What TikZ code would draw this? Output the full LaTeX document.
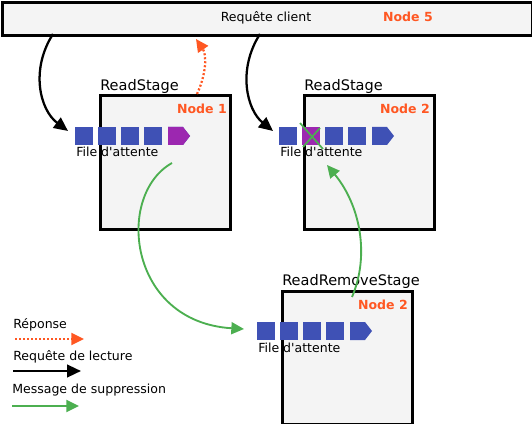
\documentclass[tikz,border=0pt]{standalone}
\usepackage{fontspec}
\setmainfont{DejaVu Sans}
\usetikzlibrary{arrows.meta}

\definecolor{qblue}{HTML}{3F51B5}
\definecolor{qpurple}{HTML}{9C27B0}
\definecolor{nodeorange}{HTML}{FF5722}
\definecolor{msggreen}{HTML}{4CAF50}
\definecolor{boxgray}{HTML}{F4F4F4}

\tikzset{
	stagebox/.style={draw=black, fill=boxgray, line width=1.9pt, anchor=north west,
		minimum width=97.5pt, minimum height=100.5pt, inner sep=0},
	stagename/.style={anchor=base west, inner sep=0, font=\fontsize{10.9}{13}\selectfont},
	smalltext/.style={inner sep=0, font=\fontsize{9.4}{11}\selectfont},
	nodetag/.style={anchor=base east, inner sep=0, text=nodeorange, font=\fontsize{9.4}{11}\selectfont\bfseries},
	readarrow/.style={line width=1.7pt, -{Triangle[length=10.5pt,width=9.5pt]}},
	replyarrow/.style={nodeorange, line width=1.7pt, dash pattern=on 1.5pt off 1.5pt,
		-{Triangle[length=9.5pt,width=9pt]}},
	removearrow/.style={msggreen, line width=1.4pt, -{Triangle[length=9.5pt,width=9pt]}}
}

\begin{document}
\begin{tikzpicture}[x=0.75pt, y=-0.75pt]
		\useasboundingbox (0,0) rectangle (532,424);
		
		% client
		\node[stagebox, minimum width=397.5pt, minimum height=24.75pt] (client) at (1,1) {};
		\node[smalltext, anchor=base] (clienttext) at (266,22) {Requête client};
		\node[nodetag] (tag5) at (433,22) {Node 5};
		
		% stages
		\node[stagebox] (rs1) at (99,94) {};
		\node[stagename] (rs1name) at (100,91) {ReadStage};
		\node[nodetag] (tag1) at (227,114) {Node 1};
		
		\node[stagebox] (rs2) at (303,94) {};
		\node[stagename] (rs2name) at (304,91) {ReadStage};
		\node[nodetag] (tag2) at (430,114) {Node 2};
		
		\node[stagebox, minimum height=99.75pt] (rrs) at (281,290) {};
		\node[stagename] (rrsname) at (282,285) {ReadRemoveStage};
		\node[nodetag] (tag3) at (408,309) {Node 2};
		
		% queues
		\foreach \qx/\qy/\qn in {75/127/q1, 279/127/q2, 257/322/q3} {
			\begin{scope}[shift={(\qx,\qy)}]
				\foreach \k in {0,...,3}
					\fill[qblue] (\k*23,0) rectangle ++(18,18);
				\fill[qblue] (93,0) -- (108,0) -- (115,9) -- (108,18) -- (93,18) -- cycle;
				\node[smalltext, anchor=base west] (\qn text) at (1,30) {File d\textquotesingle attente};
			\end{scope}
		}
		\fill[qpurple] (168,127) -- (183,127) -- (190,136) -- (183,145) -- (168,145) -- cycle;
		\fill[qpurple] (302,127) rectangle (320,145);
		\draw[msggreen, line width=1.3pt] (300,123) -- (323,149);
		\draw[msggreen, line width=1.3pt] (303,147) -- (320,128);
		
		% ends of the connectors
		\coordinate (c1) at (53,34);
		\coordinate (c2) at (260,34);
		\coordinate (q1in) at (68,131);
		\coordinate (q2in) at (273,131);
		\coordinate (rs1top) at (197,94);
		\coordinate (c3) at (196,39);
		\coordinate (q1out) at (172,163);
		\coordinate (q3in) at (244,329);
		\coordinate (rrsout) at (352,297);
		\coordinate (q2x) at (327,165);
		
		\draw[readarrow] (c1) .. controls (30,70) and (40,110) .. (q1in);
		\draw[readarrow] (c2) .. controls (237,70) and (247,110) .. (q2in);
		\draw[replyarrow] (rs1top) .. controls (206,75) and (207,55) .. (c3);
		\draw[removearrow] (q1out) .. controls (115,195) and (128,322) .. (q3in);
		\draw[removearrow] (rrsout) .. controls (370,255) and (360,205) .. (q2x);
		
		% legend
		\node[smalltext, anchor=base west] (lgreply) at (13,328) {Réponse};
		\node[smalltext, anchor=base west] (lgread) at (13,360) {Requête de lecture};
		\node[smalltext, anchor=base west] (lgremove) at (12,393) {Message de suppression};
		\coordinate (lr1) at (15,339);
		\coordinate (lr2) at (84,339);
		\coordinate (lb1) at (13,371);
		\coordinate (lb2) at (81,371);
		\coordinate (lg1) at (12,406);
		\coordinate (lg2) at (79,406);
		\draw[replyarrow] (lr1) -- (lr2);
		\draw[readarrow] (lb1) -- (lb2);
		\draw[removearrow] (lg1) -- (lg2);
\end{tikzpicture}
\end{document}
